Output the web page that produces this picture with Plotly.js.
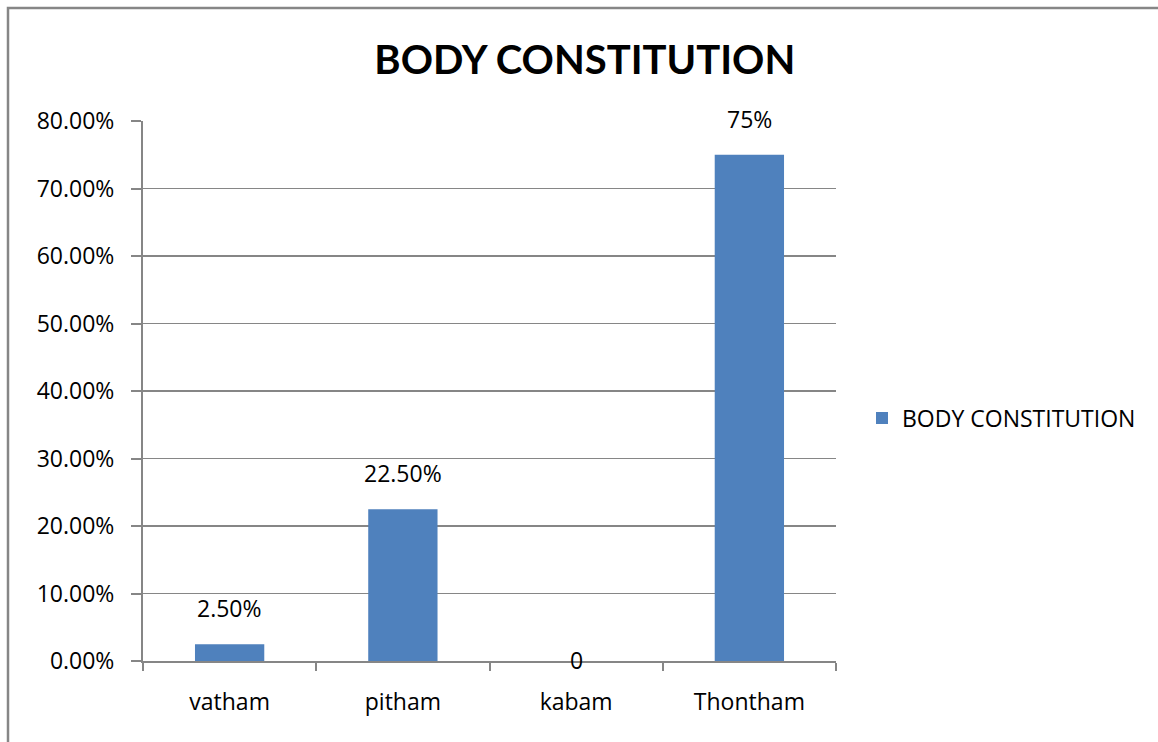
<!DOCTYPE html>
<html><head><meta charset="utf-8">
<script src="https://cdn.plot.ly/plotly-3.0.1.min.js"></script>
<style>html,body{margin:0;padding:0;background:#fff}#chart{width:1158px;height:742px}</style>
</head><body><div id="chart"></div>
<script>
const categories = ["vatham", "pitham", "kabam", "Thontham"];
const values = [0.025, 0.225, 0, 0.75];
const labels = ["2.50%", "22.50%", "0", "75%"];
const seriesName = "BODY CONSTITUTION";
const titleText = "BODY CONSTITUTION";

const FONT = "'Open Sans', sans-serif";
const TFONT = "Lato, sans-serif";
const GRAY = "#868686";
const FS = 23;

const annotations = categories.map((c, i) => ({
  x: c, y: values[i], xref: "x", yref: "y",
  text: labels[i], showarrow: false,
  yshift: values[i] > 0 ? 36 : 1,
  font: {family: FONT, size: FS, color: "#000"}
}));

const data = [{
  type: "bar", x: categories, y: values, name: seriesName,
  marker: {color: "#4F81BD"}, showlegend: true, hoverinfo: "none"
}];

const layout = {
  width: 1158, height: 742,
  margin: {l: 143, r: 322, t: 121, b: 81, pad: 0},
  paper_bgcolor: "#fff", plot_bgcolor: "#fff",
  font: {family: FONT, size: FS, color: "#000"},
  title: {text: "<b>" + titleText + "</b>", xref: "container", yref: "container",
          x: 0.505, y: 1 - 60/742, xanchor: "center", yanchor: "middle",
          font: {family: TFONT, size: 40, color: "#000"}},
  bargap: 0.6,
  xaxis: {type: "category", tickson: "boundaries", ticks: "outside", ticklen: 8,
          tickcolor: GRAY, tickwidth: 2, showline: true, linecolor: GRAY, linewidth: 2,
          showgrid: false, zeroline: false, ticklabelstandoff: 19,
          tickfont: {family: FONT, size: FS, color: "#000"}},
  yaxis: {range: [0, 0.8], dtick: 0.1, tickformat: ".2%", ticks: "outside", ticklen: 10,
          tickcolor: GRAY, tickwidth: 2, showline: true, linecolor: GRAY, linewidth: 2,
          showgrid: true, gridcolor: GRAY, gridwidth: 1.5, zeroline: false,
          ticklabelstandoff: 12,
          tickfont: {family: FONT, size: FS, color: "#000"}},
  legend: {x: (862-143)/693, y: (661-418)/540, xanchor: "left", yanchor: "middle",
           font: {family: FONT, size: FS, color: "#000"}, bgcolor: "rgba(0,0,0,0)"},
  annotations: annotations,
  shapes: [{type: "rect", xref: "paper", yref: "paper",
            x0: (8-143)/693, x1: 2, y0: -1, y1: (661-8)/540,
            line: {color: GRAY, width: 2.5}, fillcolor: "rgba(0,0,0,0)", layer: "below"}]
};

Plotly.newPlot("chart", data, layout, {staticPlot: true, displayModeBar: false});
</script></body></html>
